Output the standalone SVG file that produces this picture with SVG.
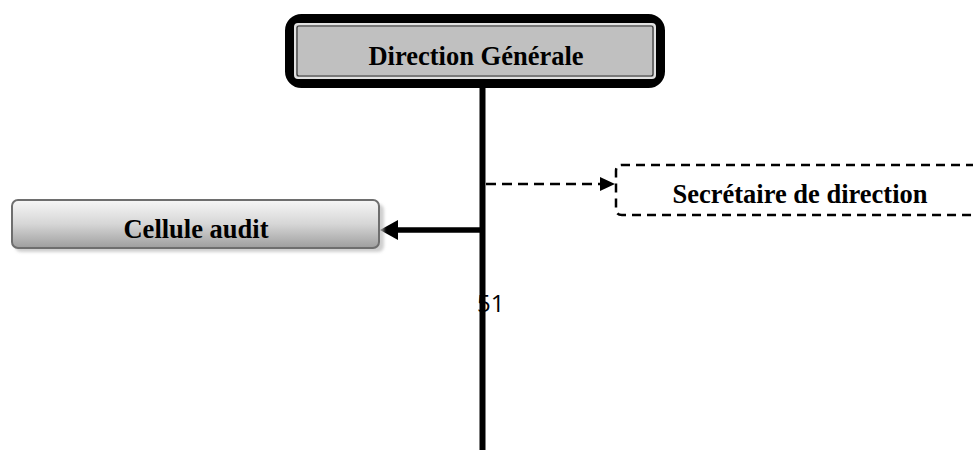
<svg xmlns="http://www.w3.org/2000/svg" width="973" height="450" viewBox="0 0 973 450">
<style>
.lbl{font-family:"Liberation Serif","Times New Roman",serif;font-weight:bold;font-size:26.5px;fill:#000;text-anchor:middle}
.num{font-family:"Open Sans","Liberation Sans",sans-serif;font-size:24px;fill:#000}
</style>
<defs>
<linearGradient id="g1" x1="0" y1="0" x2="0" y2="1">
<stop offset="0" stop-color="#f7f7f7"/>
<stop offset="0.5" stop-color="#d6d6d6"/>
<stop offset="1" stop-color="#9e9e9e"/>
</linearGradient>
<filter id="sh" x="-5%" y="-20%" width="110%" height="150%">
<feGaussianBlur stdDeviation="1.5"/>
</filter>
</defs>
<g id="connectors">
<line x1="482.5" y1="88" x2="482.5" y2="450" stroke="#000" stroke-width="6"/>
<line x1="480" y1="230" x2="396" y2="230" stroke="#000" stroke-width="5.5"/>
<path d="M380,230 L398,220 L398,240 z" fill="#000"/>
<line x1="486" y1="184" x2="602" y2="184" stroke="#000" stroke-width="2.3" stroke-dasharray="10,6"/>
<path d="M615,184 L600,177 L600,191 z" fill="#000"/>
</g>
<g id="direction-generale">
<rect x="289.5" y="18.5" width="371" height="65" rx="12" fill="#c0c0c0" stroke="#000" stroke-width="9"/>
<rect x="295" y="24" width="360" height="54" rx="3" fill="none" stroke="#e2e2e2" stroke-width="2"/>
<rect x="297" y="26" width="356" height="50" rx="2" fill="none" stroke="#333" stroke-width="1.2"/>
<text class="lbl" x="476" y="65">Direction Générale</text>
</g>
<g id="cellule-audit">
<rect x="15" y="204" width="369" height="48" rx="6" fill="#bbb" filter="url(#sh)" opacity="0.7"/>
<rect x="12" y="200" width="367" height="48" rx="6" fill="url(#g1)" stroke="#6e6e6e" stroke-width="2"/>
<text class="lbl" x="196" y="238">Cellule audit</text>
</g>
<g id="secretaire">
<path d="M990,165 L622,165 Q616,165 616,171 L616,209 Q616,215 622,215 L990,215" fill="none" stroke="#000" stroke-width="2.5" stroke-dasharray="9,6"/>
<text class="lbl" x="800" y="203">Secrétaire de direction</text>
</g>
<text class="num" x="477" y="312">51</text>
</svg>
